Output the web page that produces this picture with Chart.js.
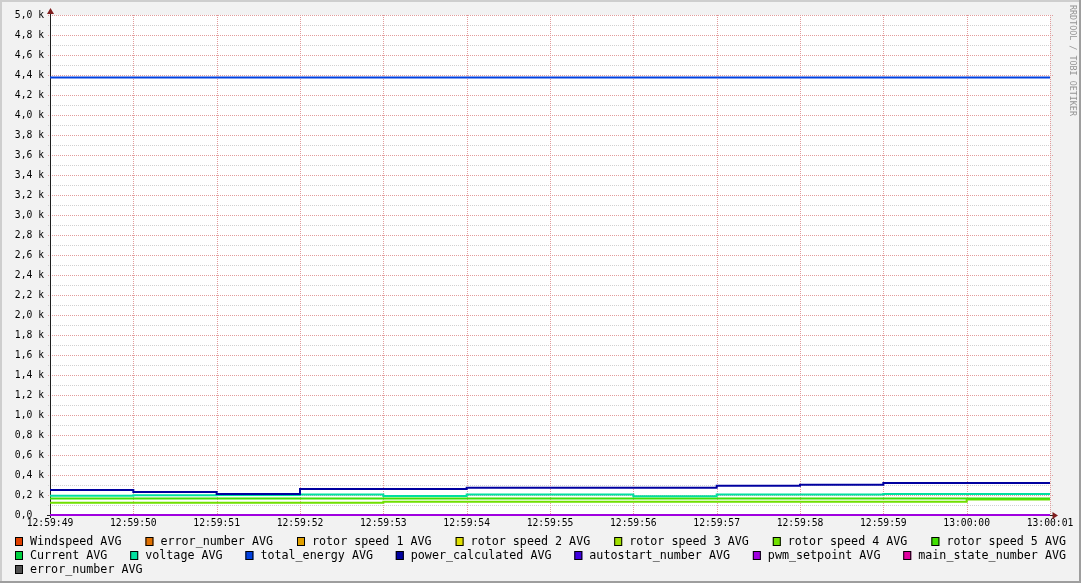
<!DOCTYPE html>
<html><head><meta charset="utf-8">
<script src="https://cdn.jsdelivr.net/npm/chart.js@4/dist/chart.umd.min.js"></script>
<style>html,body{margin:0;padding:0;background:#f2f2f2;overflow:hidden}#wrap{position:relative;width:1081px;height:583px}canvas{display:block}</style>
</head><body><div id="wrap"><canvas id="c" width="1081" height="583"></canvas></div>
<script>
// ---- data ----
const timeLabels = ['12:59:49','12:59:50','12:59:51','12:59:52','12:59:53','12:59:54','12:59:55','12:59:56','12:59:57','12:59:58','12:59:59','13:00:00','13:00:01'];
const seriesNames = ['Windspeed AVG','error_number AVG','rotor speed 1 AVG','rotor speed 2 AVG','rotor speed 3 AVG','rotor speed 4 AVG','rotor speed 5 AVG','Current AVG','voltage AVG','total_energy AVG','power_calculated AVG','autostart_number AVG','pwm_setpoint AVG','main_state_number AVG','error_number AVG'];
const seriesColors = ['#e04000','#e07000','#e0a000','#e0e000','#a0e000','#70e000','#40e000','#00d040','#00e0a0','#0040e0','#0000a0','#4000e0','#a000e0','#e000a0','#505050'];
const yTickValues = [0,200,400,600,800,1000,1200,1400,1600,1800,2000,2200,2400,2600,2800,3000,3200,3400,3600,3800,4000,4200,4400,4600,4800,5000];
const yMinorValues = [100,300,500,700,900,1100,1300,1500,1700,1900,2100,2300,2500,2700,2900,3100,3300,3500,3700,3900,4100,4300,4500,4700,4900];

const windspeed       = [0,0,0,0,0,0,0,0,0,0,0,0,0];
const errorNumber     = [0,0,0,0,0,0,0,0,0,0,0,0,0];
const rotorSpeed1     = [0,0,0,0,0,0,0,0,0,0,0,0,0];
const rotorSpeed2     = [0,0,0,0,0,0,0,0,0,0,0,0,0];
const rotorSpeed3     = [0,0,0,0,0,0,0,0,0,0,0,0,0];
const rotorSpeed4     = [122,122,122,122,132,132,132,132,132,132,132,155,155];
const rotorSpeed5     = [166,166,166,166,166,166,166,166,166,166,166,166,166];
const current         = [0,0,0,0,0,0,0,0,0,0,0,0,0];
const voltage         = [193,198,200,205,190,205,205,187,205,205,210,210,210];
const totalEnergy     = [4375,4375,4375,4375,4375,4375,4375,4375,4375,4375,4375,4375,4375];
const powerCalculated = [250,230,210,260,260,273,273,273,293,303,320,320,320];
const autostartNumber = [0,0,0,0,0,0,0,0,0,0,0,0,0];
const pwmSetpoint     = [0,0,0,0,0,0,0,0,0,0,0,0,0];
const mainStateNumber = [null,null,null,null,null,null,null,null,null,null,null,null,null];
const errorNumber2    = [null,null,null,null,null,null,null,null,null,null,null,null,null];

const seriesValues = [windspeed,errorNumber,rotorSpeed1,rotorSpeed2,rotorSpeed3,rotorSpeed4,rotorSpeed5,current,voltage,totalEnergy,powerCalculated,autostartNumber,pwmSetpoint,mainStateNumber,errorNumber2];

// ---- styling ----
const MONO = '"DejaVu Sans Mono", "Liberation Mono", monospace';
const MGRID = '#e29c9c';
const GRID = '#d0d0d0';

function fmtY(v){
  if (v === 0) return '0,0  ';
  return (v/1000).toFixed(1).replace('.', ',') + ' k';
}

const rrdPlugin = {
  id: 'rrd',
  beforeDraw(chart){
    const {ctx, chartArea:a, width:W, height:H} = chart;
    ctx.save();
    ctx.fillStyle = '#f2f2f2'; ctx.fillRect(0,0,W,H);
    ctx.fillStyle = '#cecece'; ctx.fillRect(0,0,W,2); ctx.fillRect(0,0,2,H);
    ctx.fillStyle = '#9e9e9e'; ctx.fillRect(0,H-2,W,2); ctx.fillRect(W-2,0,2,H);
    ctx.fillStyle = '#ffffff'; ctx.fillRect(a.left, a.top, a.right-a.left, a.bottom-a.top);
    ctx.restore();
  },
  beforeDatasetsDraw(chart){
    const {ctx, chartArea:a, scales} = chart;
    const xs = scales.x, ys = scales.y;
    ctx.save();
    ctx.lineWidth = 1;
    ctx.setLineDash([1,1]);
    ctx.strokeStyle = GRID;
    ctx.beginPath();
    yMinorValues.forEach(v => { const p = Math.round(ys.getPixelForValue(v)) + 0.5; ctx.moveTo(a.left-2, p); ctx.lineTo(a.right+3, p); });
    ctx.stroke();
    ctx.strokeStyle = MGRID;
    ctx.beginPath();
    yTickValues.forEach(v => { if (v === 0) return; const p = Math.round(ys.getPixelForValue(v)) + 0.5; ctx.moveTo(a.left-2, p); ctx.lineTo(a.right+3, p); });
    timeLabels.forEach((t, i) => { if (i === 0) return; const p = Math.round(xs.getPixelForValue(i)) + 0.5; ctx.moveTo(p, a.top); ctx.lineTo(p, a.bottom+2); });
    ctx.stroke();
    ctx.setLineDash([]);
    ctx.strokeStyle = '#1f1f1f';
    ctx.beginPath();
    ctx.moveTo(a.left+0.5, a.bottom+3); ctx.lineTo(a.left+0.5, a.top-6);
    ctx.moveTo(a.left-3, a.bottom+0.5); ctx.lineTo(a.right+3, a.bottom+0.5);
    ctx.stroke();
    ctx.restore();
  },
  afterDraw(chart){
    const {ctx, chartArea:a} = chart;
    ctx.save();
    ctx.fillStyle = '#801f1f';
    ctx.beginPath();
    ctx.moveTo(a.left-3, a.top-1); ctx.lineTo(a.left+4, a.top-1); ctx.lineTo(a.left+0.5, a.top-7); ctx.closePath(); ctx.fill();
    ctx.beginPath();
    ctx.moveTo(a.right+2.5, a.bottom-3); ctx.lineTo(a.right+2.5, a.bottom+4); ctx.lineTo(a.right+8, a.bottom+0.5); ctx.closePath(); ctx.fill();
    ctx.font = '11.7px ' + MONO;
    ctx.textBaseline = 'middle';
    ctx.textAlign = 'left';
    const items = chart.data.datasets.map(d => ({label:d.label, color:d.borderColor, w:15 + ctx.measureText(d.label).width}));
    const L = 15, R = 1066, minGap = 10;
    const rows = [[]];
    for (const it of items){
      const row = rows[rows.length-1];
      const need = row.reduce((s,r)=>s+r.w+minGap,0) + it.w;
      if (row.length && need > R-L) rows.push([it]); else row.push(it);
    }
    rows.forEach((row, ri) => {
      const y = 541 + ri*14;
      const total = row.reduce((s,r)=>s+r.w,0);
      const gap = (ri < rows.length-1 && row.length > 1) ? (R-L-total)/(row.length-1) : minGap;
      let x = L;
      row.forEach(it => {
        ctx.fillStyle = it.color; ctx.fillRect(x, y-4, 8, 9);
        ctx.strokeStyle = '#000'; ctx.lineWidth = 1; ctx.strokeRect(x+0.5, y-3.5, 7, 8);
        ctx.fillStyle = '#000'; ctx.fillText(it.label, x+15, y+0.5);
        x += it.w + gap;
      });
    });
    ctx.translate(1072.5, 5);
    ctx.rotate(Math.PI/2);
    ctx.font = '8.4px ' + MONO;
    ctx.fillStyle = '#949494';
    ctx.textBaseline = 'middle';
    ctx.fillText('RRDTOOL / TOBI OETIKER', 0, 0);
    ctx.restore();
  }
};

const datasets = seriesNames.map((name, i) => ({
  label: name,
  data: seriesValues[i],
  borderColor: seriesColors[i],
  backgroundColor: seriesColors[i],
  borderWidth: 2,
  pointRadius: 0,
  stepped: 'before',
  tension: 0,
  fill: false,
  spanGaps: false,
  clip: false,
  order: -i
}));

new Chart(document.getElementById('c'), {
  type: 'line',
  data: { labels: timeLabels, datasets },
  options: {
    responsive: false,
    animation: false,
    devicePixelRatio: 1,
    layout: { padding: { left: 0, top: 15, right: 31, bottom: 0 } },
    plugins: { legend: { display: false }, tooltip: { enabled: false } },
    scales: {
      x: {
        type: 'category',
        offset: false,
        grid: { display: false, drawTicks: false },
        border: { display: false },
        ticks: { autoSkip: false, maxRotation: 0, minRotation: 0, padding: 3, color: '#000', font: { family: MONO, size: 9.7 } },
        afterFit(s){ s.height = 68; }
      },
      y: {
        type: 'linear',
        min: 0, max: 5000,
        grid: { display: false, drawTicks: false },
        border: { display: false },
        ticks: {
          stepSize: 100, maxTicksLimit: 100, autoSkip: false, padding: 6, color: '#000',
          font: { family: MONO, size: 9.7 },
          callback: v => yTickValues.includes(v) ? fmtY(v) : ''
        },
        afterFit(s){ s.width = 50; }
      }
    }
  },
  plugins: [rrdPlugin]
});
</script>
</body></html>
